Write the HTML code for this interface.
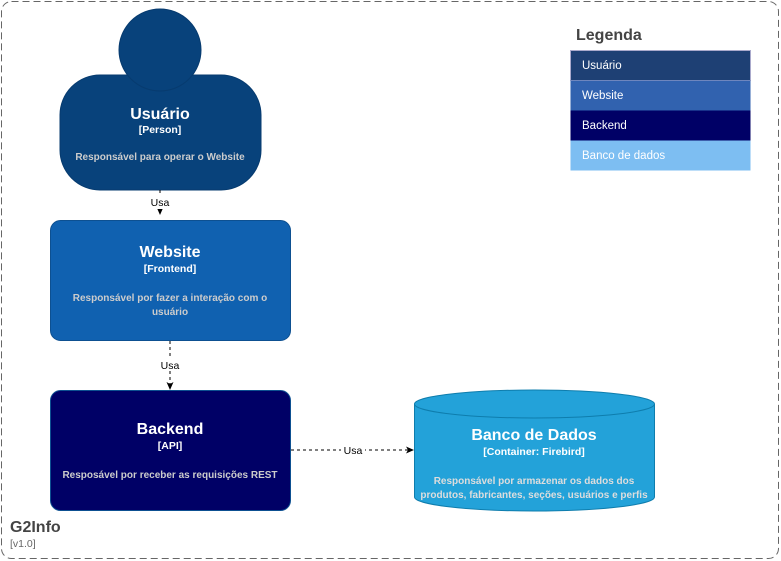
<!DOCTYPE html>
<html><head><meta charset="utf-8"><style>
html,body{margin:0;padding:0;background:#fff;}
svg{display:block;font-family:"Liberation Sans",Arial,sans-serif;}
</style></head><body>
<svg width="781" height="561" viewBox="0 0 781 561" xmlns="http://www.w3.org/2000/svg">
<defs><marker id="ar" markerWidth="8" markerHeight="8" refX="7" refY="4" orient="auto" markerUnits="userSpaceOnUse"><path d="M0,0.5 L8,4 L0,7.5 L2,4 Z" fill="#000"/></marker></defs>
<rect x="1.5" y="1.5" width="777" height="557" rx="10" fill="#fff" stroke="#666" stroke-dasharray="7,4" stroke-width="1"/>
<rect x="60" y="75" width="201" height="115" rx="40" fill="#08427B" stroke="#073B6F"/>
<circle cx="160" cy="50" r="41" fill="#08427B" stroke="#073B6F"/>
<text x="160" y="119" text-anchor="middle" fill="#fff" font-size="16" font-weight="bold">Usuário</text>
<text x="160" y="133" text-anchor="middle" fill="#fff" font-size="10.5" font-weight="bold">[Person]</text>
<text x="160" y="160" text-anchor="middle" fill="#ccc" font-size="10" font-weight="bold">Responsável para operar o Website</text>
<line x1="160" y1="190" x2="160" y2="214" stroke="#000" stroke-dasharray="3,3" marker-end="url(#ar)"/>
<rect x="148" y="196" width="24" height="13" fill="#fff"/>
<text x="160" y="206" text-anchor="middle" font-size="10.5">Usa</text>
<rect x="50.5" y="220.5" width="240" height="120" rx="10" fill="#1061B0" stroke="#0D5091"/>
<text x="170" y="257" text-anchor="middle" fill="#fff" font-size="16" font-weight="bold">Website</text>
<text x="170" y="272" text-anchor="middle" fill="#fff" font-size="10.5" font-weight="bold">[Frontend]</text>
<text x="170" y="301" text-anchor="middle" fill="#ccc" font-size="10" font-weight="bold">Responsável por fazer a interação com o</text>
<text x="170" y="315" text-anchor="middle" fill="#ccc" font-size="10" font-weight="bold">usuário</text>
<line x1="170" y1="341" x2="170" y2="389" stroke="#000" stroke-dasharray="3,3" marker-end="url(#ar)"/>
<rect x="158" y="358" width="24" height="13" fill="#fff"/>
<text x="170" y="369" text-anchor="middle" font-size="10.5">Usa</text>
<rect x="50.5" y="390.5" width="240" height="120" rx="10" fill="#000066" stroke="#0D5091"/>
<text x="170" y="434" text-anchor="middle" fill="#fff" font-size="16" font-weight="bold">Backend</text>
<text x="170" y="449" text-anchor="middle" fill="#fff" font-size="10.5" font-weight="bold">[API]</text>
<text x="170" y="478" text-anchor="middle" fill="#ccc" font-size="10" font-weight="bold">Resposável por receber as requisições REST</text>
<line x1="291" y1="450" x2="413" y2="450" stroke="#000" stroke-dasharray="3,3" marker-end="url(#ar)"/>
<rect x="341" y="444" width="24" height="12" fill="#fff"/>
<text x="353" y="454" text-anchor="middle" font-size="10.5">Usa</text>
<path d="M414.5,404 L414.5,497 A120,14 0 0 0 654.5,497 L654.5,404" fill="#23A2D9" stroke="#0E7DAD"/>
<ellipse cx="534.5" cy="404" rx="120" ry="14" fill="#23A2D9" stroke="#0E7DAD"/>
<text x="534" y="440" text-anchor="middle" fill="#fff" font-size="16" font-weight="bold">Banco de Dados</text>
<text x="534" y="455" text-anchor="middle" fill="#fff" font-size="10.5" font-weight="bold">[Container: Firebird]</text>
<text x="534" y="484" text-anchor="middle" fill="#ddd" font-size="10" font-weight="bold">Responsável por armazenar os dados dos</text>
<text x="534" y="498" text-anchor="middle" fill="#ddd" font-size="10" font-weight="bold">produtos, fabricantes, seções, usuários e perfis</text>
<text x="576" y="40" fill="#444" font-size="16" font-weight="bold">Legenda</text>
<rect x="570.5" y="50.5" width="180" height="30" fill="#1E4074" stroke="#aac"/>
<rect x="570.5" y="80.5" width="180" height="30" fill="#3162AF"/>
<rect x="570.5" y="110.5" width="180" height="30" fill="#000066"/>
<rect x="570.5" y="140.5" width="180" height="30" fill="#7DBEF2"/>
<text x="582" y="69" fill="#fff" font-size="11.5">Usuário</text>
<text x="582" y="99" fill="#fff" font-size="11.5">Website</text>
<text x="582" y="129" fill="#fff" font-size="11.5">Backend</text>
<text x="582" y="159" fill="#fff" font-size="11.5">Banco de dados</text>
<text x="10" y="532" fill="#444" font-size="16" font-weight="bold">G2Info</text>
<text x="10" y="547" fill="#666" font-size="10.5">[v1.0]</text>
</svg>
</body></html>
